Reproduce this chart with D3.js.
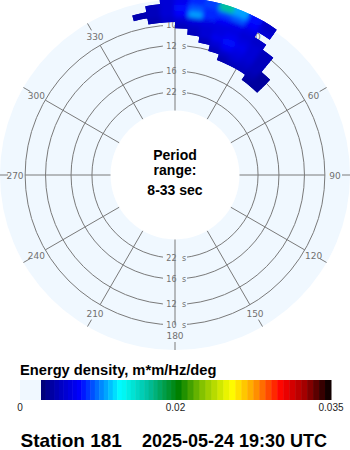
<!DOCTYPE html>
<html>
<head>
<meta charset="utf-8">
<script src="https://cdn.jsdelivr.net/npm/d3@7"></script>
<style>
  body { margin: 0; background: #fff; }
  svg { display: block; }
</style>
</head>
<body>
<svg id="chart" width="350" height="450"></svg>
<script>
// period rings and compass labels
var ringPeriods = [10, 12, 16, 22];
var compass = [0, 30, 60, 90, 120, 150, 180, 210, 240, 270, 300, 330];
var periodRange = [8, 33];

// spectrum bins: frequency edges (Hz), direction bin centres (deg from north)
var freqEdges = [0.0725, 0.0775, 0.0825, 0.0875, 0.0925, 0.0975, 0.1025, 0.1075, 0.1125, 0.1175, 0.1225];
var dirs = [-12.5, -7.5, -2.5, 2.5, 7.5, 12.5, 17.5, 22.5, 27.5, 32.5, 37.5, 42.5];
var dirWidth = 5;

// energy density, m*m/Hz/deg, one row per frequency bin (low -> high)
var energy = [
  [0, 0, 0, 0, 0, 0, 0, 0, 0, 0, 0.004, 0.004],
  [0, 0, 0, 0, 0, 0, 0, 0.0045, 0.005, 0.005, 0.0045, 0.004],
  [0, 0, 0, 0, 0, 0, 0.005, 0.0055, 0.006, 0.0055, 0.005, 0.004],
  [0, 0, 0, 0, 0, 0.005, 0.006, 0.0072, 0.0065, 0.006, 0.005, 0],
  [0, 0, 0, 0, 0.005, 0.006, 0.007, 0.008, 0.007, 0.006, 0.005, 0],
  [0, 0, 0, 0.005, 0.0055, 0.006, 0.0065, 0.007, 0.0065, 0.006, 0.005, 0],
  [0, 0.0045, 0.0055, 0.006, 0.0065, 0.0065, 0.0065, 0.0065, 0.006, 0.0055, 0, 0],
  [0.0045, 0.005, 0.006, 0.0075, 0.011, 0.0085, 0.0075, 0.007, 0.0065, 0, 0, 0],
  [0, 0.005, 0.006, 0.008, 0.0095, 0.0085, 0.009, 0.0095, 0.0075, 0.006, 0, 0],
  [0, 0, 0.006, 0.007, 0.0085, 0.009, 0.0165, 0.011, 0.008, 0.0055, 0, 0]
];

// colour bar
var cbarTicks = [0, 0.02, 0.035];
var cmapVals = [0.0027, 0.0045, 0.0077, 0.0103, 0.0129, 0.0165, 0.0203, 0.0225, 0.0254, 0.0275, 0.0302, 0.0325, 0.035];
var cmapColors = ['#000070', '#0000b0', '#0000ff', '#0080ff', '#00ffff', '#00c0a0', '#008000', '#80c000', '#ffff00', '#ffa000', '#ff0000', '#a00000', '#000000'];
var zeroColor = '#f0f8ff';

var stationTitle = 'Station 181';
var timeTitle = '2025-05-24 19:30 UTC';

var svg = d3.select('#chart');
var cx = 175, cy = 175;
var frameR = 175;
var gridColor = '#7a7a7a';

var r = d3.scaleLinear().domain([1 / periodRange[1], 1 / periodRange[0]]).range([64.5, 180.5]);
var color = d3.scaleLinear().domain(cmapVals).range(cmapColors).clamp(true);
var rad = function(d) { return d * Math.PI / 180; };

var plot = svg.append('g').attr('transform', 'translate(' + cx + ',' + cy + ')');

// background annulus
plot.append('path')
  .attr('d', d3.arc().innerRadius(r.range()[0]).outerRadius(frameR).startAngle(0).endAngle(2 * Math.PI)())
  .attr('fill', zeroColor);

// rings
plot.selectAll('.ring').data(ringPeriods).enter()
  .append('circle')
  .attr('class', 'ring')
  .attr('r', function(d) { return r(1 / d); })
  .attr('fill', 'none')
  .attr('stroke', gridColor)
  .attr('stroke-width', 1);

// knock-outs behind ring labels (top and bottom)
var ringLabels = [];
ringPeriods.forEach(function(p) { ringLabels.push({p: p, y: -r(1 / p)}); ringLabels.push({p: p, y: r(1 / p)}); });

plot.selectAll('.rl-bg').data(ringLabels).enter()
  .append('rect')
  .attr('x', -12).attr('y', function(d) { return d.y - 4; })
  .attr('width', 24).attr('height', 8)
  .attr('fill', zeroColor);

// spokes
plot.selectAll('.spoke').data(compass).enter()
  .append('line')
  .attr('x1', function(d) { return r(1 / periodRange[1]) * Math.sin(rad(d)); })
  .attr('y1', function(d) { return -r(1 / periodRange[1]) * Math.cos(rad(d)); })
  .attr('x2', function(d) { return r(1 / ringPeriods[0]) * Math.sin(rad(d)); })
  .attr('y2', function(d) { return -r(1 / ringPeriods[0]) * Math.cos(rad(d)); })
  .attr('stroke', gridColor)
  .attr('stroke-width', 1);

// ring labels
var rl = plot.selectAll('.rl').data(ringLabels).enter().append('g')
  .attr('transform', function(d) { return 'translate(0,' + d.y + ')'; })
  .style('font-family', 'DejaVu Sans, sans-serif')
  .style('font-size', '8px')
  .attr('fill', '#707070');
rl.append('text').attr('x', 1.5).attr('y', 3).attr('text-anchor', 'end').text(function(d) { return d.p; });
rl.append('text').attr('x', 7).attr('y', 3).text('s');

// compass ticks and labels
plot.selectAll('.ctick').data(compass).enter()
  .append('line')
  .attr('x1', function(d) { return 167 * Math.sin(rad(d)); })
  .attr('y1', function(d) { return -167 * Math.cos(rad(d)); })
  .attr('x2', function(d) { return 175 * Math.sin(rad(d)); })
  .attr('y2', function(d) { return -175 * Math.cos(rad(d)); })
  .attr('stroke', gridColor);

plot.selectAll('.clabel').data(compass).enter()
  .append('text')
  .attr('x', function(d) { return 160 * Math.sin(rad(d)); })
  .attr('y', function(d) { return -160 * Math.cos(rad(d)) + 3.5; })
  .attr('text-anchor', 'middle')
  .style('font-family', 'DejaVu Sans, sans-serif')
  .style('font-size', '9px')
  .attr('fill', '#707070')
  .text(function(d) { return d; });

// spectrum cells
var cells = [];
energy.forEach(function(row, i) {
  row.forEach(function(v, j) {
    if (v > 0) cells.push({f0: freqEdges[i], f1: freqEdges[i + 1], d: dirs[j], v: v});
  });
});
var cellArc = d3.arc()
  .innerRadius(function(c) { return r(c.f0); })
  .outerRadius(function(c) { return r(c.f1); })
  .startAngle(function(c) { return rad(c.d - dirWidth / 2); })
  .endAngle(function(c) { return rad(c.d + dirWidth / 2); });

// one combined outline so the clip has no seams between cells
var defs = svg.append('defs');
defs.append('clipPath').attr('id', 'specClip')
  .append('path')
  .attr('transform', 'translate(' + cx + ',' + cy + ')')
  .attr('d', cells.map(cellArc).join(' '));
defs.append('filter').attr('id', 'soft').attr('x', '-20%').attr('y', '-20%').attr('width', '140%').attr('height', '140%')
  .append('feGaussianBlur').attr('stdDeviation', 2.2);

var spec = svg.append('g').attr('clip-path', 'url(#specClip)')
  .append('g').attr('transform', 'translate(' + cx + ',' + cy + ')');
spec.append('g').selectAll('path').data(cells).enter()
  .append('path').attr('d', cellArc)
  .attr('fill', function(c) { return color(c.v); })
  .attr('stroke', function(c) { return color(c.v); })
  .attr('stroke-width', 1.5);
spec.append('g').attr('filter', 'url(#soft)').selectAll('path').data(cells).enter()
  .append('path').attr('d', cellArc)
  .attr('fill', function(c) { return color(c.v); })
  .attr('stroke', function(c) { return color(c.v); })
  .attr('stroke-width', 1.5);

// centre text
var centre = svg.append('g')
  .attr('text-anchor', 'middle')
  .style('font-family', 'Liberation Sans, Arial, sans-serif')
  .style('font-weight', 'bold')
  .style('font-size', '14px')
  .attr('fill', '#000');
centre.append('text').attr('x', cx).attr('y', 160).text('Period');
centre.append('text').attr('x', cx).attr('y', 175).text('range:');
centre.append('text').attr('x', cx).attr('y', 194.5).text(periodRange[0] + '-' + periodRange[1] + ' sec');

// colour bar
var xs = d3.scaleLinear().domain(cbarTicks).range([20, 175.5, 331]);
svg.append('text')
  .attr('x', 20).attr('y', 375)
  .style('font-family', 'Liberation Sans, Arial, sans-serif')
  .style('font-weight', 'bold')
  .style('font-size', '14.7px')
  .text('Energy density, m*m/Hz/deg');

svg.append('rect')
  .attr('x', xs(0)).attr('y', 380)
  .attr('width', xs(cmapVals[0]) - xs(0)).attr('height', 20)
  .attr('fill', zeroColor);

var nBands = 56;
var bandStep = (cbarTicks[2] - cmapVals[0]) / nBands;
var bandVals = d3.range(nBands).map(function(i) { return cmapVals[0] + i * bandStep; });
svg.selectAll('.band').data(bandVals).enter()
  .append('rect')
  .attr('x', function(v) { return xs(v); })
  .attr('y', 380)
  .attr('width', function(v) { return xs(v + bandStep) - xs(v) + 0.5; })
  .attr('height', 20)
  .attr('fill', function(v) { return color(v + bandStep / 2); });

svg.selectAll('.cbt').data(cbarTicks).enter()
  .append('text')
  .attr('x', function(v) { return xs(v); })
  .attr('y', 411)
  .attr('text-anchor', 'middle')
  .style('font-family', 'Liberation Sans, Arial, sans-serif')
  .style('font-size', '10px')
  .attr('fill', '#222')
  .text(function(v) { return v; });

// title
var title = svg.append('g')
  .style('font-family', 'Liberation Sans, Arial, sans-serif')
  .style('font-weight', 'bold');
title.append('text').attr('x', 20.5).attr('y', 447).style('font-size', '19px').text(stationTitle);
title.append('text').attr('x', 142).attr('y', 447).style('font-size', '18px').text(timeTitle);
</script>
</body>
</html>
